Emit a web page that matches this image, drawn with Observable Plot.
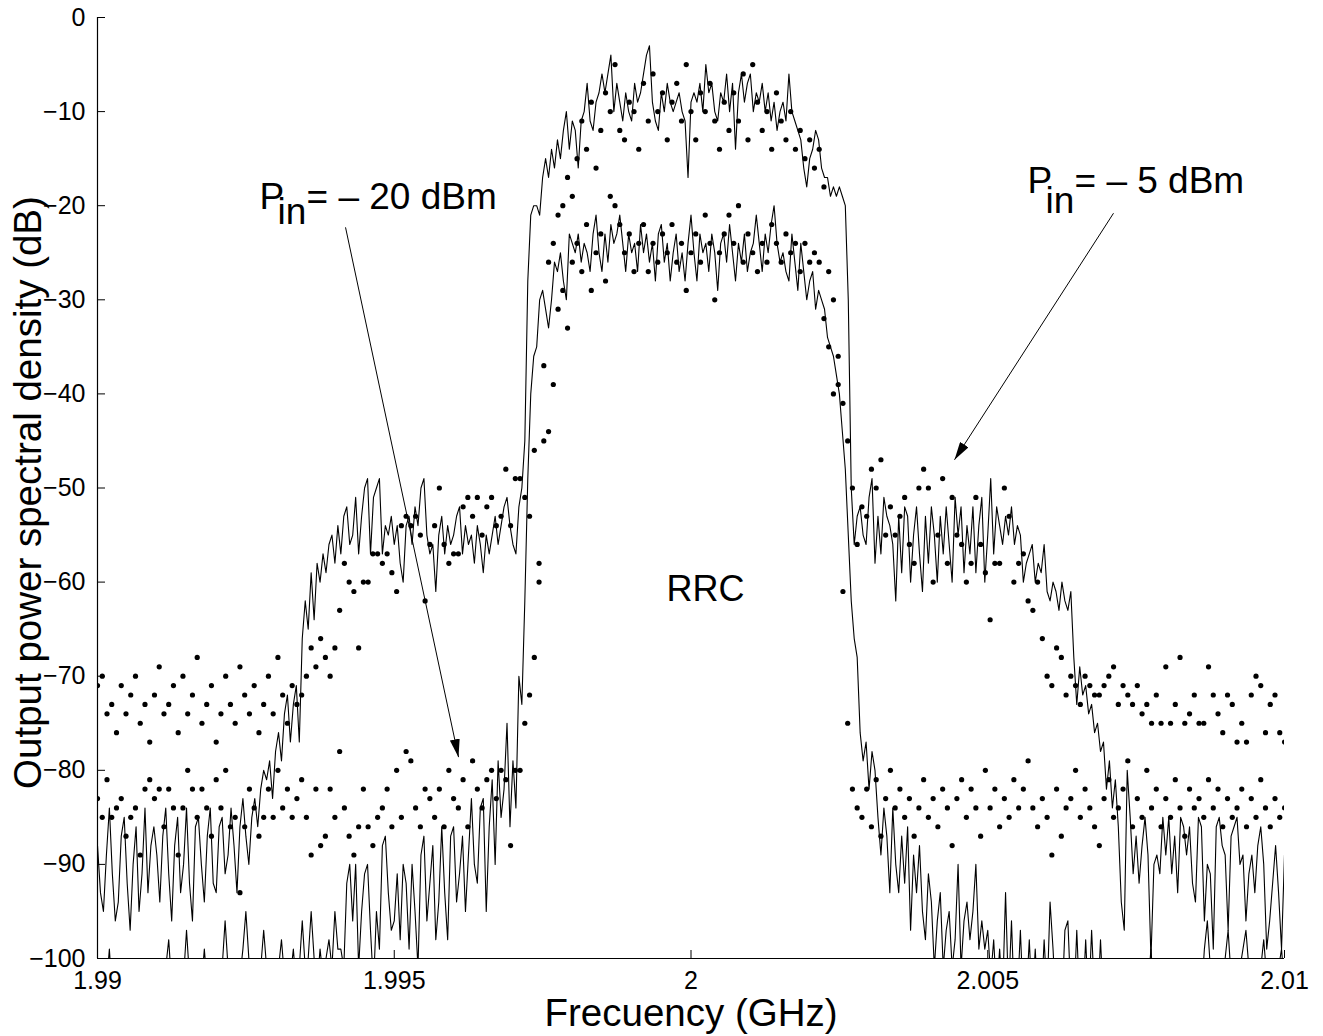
<!DOCTYPE html>
<html><head><meta charset="utf-8">
<script src="https://cdn.jsdelivr.net/npm/d3@7"></script>
<script src="https://cdn.jsdelivr.net/npm/@observablehq/plot@0.6"></script>
<style>html,body{margin:0;padding:0;background:#fff}</style>
</head><body><div id="chart"></div>
<script>
// ---------- data ----------
const freqStart = 1.99;      // GHz
const lineStep = 0.00005;    // spacing of line samples (GHz)
const dotStep = 0.00008;     // spacing of dot samples (GHz)

// Solid line, Pin = -5 dBm (upper trace), dB
const hiLine = [
-88,-93,-95,-89,-84,-91,-96,-94,-87,-85,-92,-97,-90,-86,-95,-91,-84,-93,-88,-86,
-89,-94,-87,-84,-91,-96,-88,-85,-93,-90,-84,-92,-96,-86,-85,-90,-94,-87,-84,-92,
-93,-86,-85,-91,-89,-84,-88,-93,-86,-83,-87,-90,-85,-83,-86,-82,-80,
-81,-79,-83,-78,-76,-79,-74,-72,-77,-73,-71,-77,
-66,-62,-65,-59,
-64,-58,-60,-57,-59,-56,-55,-58,-54,-57,-53,-52,-56,-55,-51,-57,-53,-50,-49,-57,
-51,-50,-49,-57,-54,-55,-53,-56,-54,-58,-60,-54,-53,-56,-52,-54,-50,-49,-55,-57,
-56,-61,-55,-53,-57,-54,-56,-55,-53,-52,-57,-54,-56,-55,-58,-54,-56,-59,-55,-57,
-55,-53,-56,-54,-52,-51,-54,-56,-57,-52,-50,
-45,-28,-21,-20,-20,-21,-17,-15,-17,-14,
-16,-13,-15,-12,-10,-14,-11,-12,-16,-11,
-10,-7,-11,-12,-9,-8,-6,-8,-6,-4,
-10,-7,-9,-11,-8,-10,-11,-7,-9,-8,
-6,-4,-3,-9,-11,-12,-8,-10,-7,-9,
-10,-9,-8,-10,-11,-17,-9,-8,-9,-7,
-10,-5,-8,-7,-10,-11,-8,-9,-6,-10,
-7,-14,-8,-6,-9,-7,-6,-10,-8,-9,
-7,-10,-8,-11,-9,-12,-10,-9,-11,-6,
-10,-11,-12,-13,-16,-18,-15,-14,-12,-13,
-16,-17,-17,-19,-18,-19,-18,-19,-20,-30,
-50,-56,-53,-52,-55,-56,-51,-49,-58,-53,
-57,-51,-53,-54,-56,-62,-53,-59,-52,-53,
-60,-55,-52,-57,-61,-53,-58,-52,-55,-60,
-53,-57,-52,-56,-60,-51,-55,-52,-59,-54,
-57,-52,-59,-54,-51,-60,-55,-49,-57,-52,
-54,-56,-53,-55,-52,-56,-54,-55,-60,-58,
-57,-56,-60,-58,-59,-56,-61,-62,-60,-61,
-63,-60,-62,-63,-61,-68,-73,-69,-72,-71,
-74,-73,-76,-75,-78,-77,-82,-79,-84,-81,
-86,-94,-97,-80,-85,-91,-87,-92,-88,-85,
-89,-100,-90,-89,-91,-85,-89,-85,-91,-87,
-93,-85,-86,-89,-86,-92,-94,-85,-86,-96,
-90,-91,-99,-86,-85,-88,-89,-97,-87,-86,
-85,-90,-89,-96,-91,-89,-93,-88,-86,-90,
-99,-96,-92,-88,-93,-99,-89
];

// Solid line, Pin = -20 dBm (lower trace), dB (values below -100 are clipped by the axis)
const loLine = [
-106,-104,-107,-103,-99,-104,-108,-105,-103,-107,-106,-104,-108,-105,-107,-103,-106,-108,-104,-106,
-107,-105,-103,-101,-98,-103,-107,-106,-104,-102,-97,-102,-106,-108,-104,-103,-99,-103,-107,-105,
-106,-103,-101,-96,-101,-105,-107,-104,-102,-99,-95,-100,-104,-106,-103,-101,-97,-101,-105,-104,
-103,-101,-98,-102,-105,-102,-99,-103,-101,-96,-101,-100,-95,-100,-103,-99,-102,-100,-98,-101,-95,-99,-99,-101,
-92,-90,-96,-90,-101,-95,-91,-90,-97,-103,
-95,-99,-88,-87,-93,-97,-96,-91,-98,-90,
-92,-99,-90,-95,-101,-89,-87,-96,-92,-88,
-98,-94,-86,-93,-98,-87,-86,-94,-91,-87,
-95,-89,-83,-90,-92,-84,-83,-95,-86,-81,
-90,-79,-85,-82,-75,-86,-79,-84,-70,-73,
-62,-49,-40,-36,-35,-30,-29,-31,-33,-30,
-26,-27,-25,-28,-30,-23,-24,-25,-23,-26,
-24,-25,-27,-23,-21,-25,-27,-23,-26,-22,
-24,-23,-21,-24,-27,-23,-25,-24,-27,-22,
-25,-23,-26,-24,-28,-23,-22,-26,-24,-28,
-25,-23,-27,-25,-28,-24,-21,-25,-28,-23,
-25,-24,-27,-23,-25,-29,-24,-23,-26,-22,
-25,-28,-24,-26,-23,-27,-25,-24,-21,-24,
-27,-23,-25,-22,-20,-24,-26,-25,-27,-28,
-23,-26,-29,-24,-27,-30,-28,-27,-31,-29,
-30,-31,-34,-35,-36,-38,-40,-44,-48,-55,
-62,-66,-68,-76,-79,-77,-82,-78,-80,-85,
-89,-84,-87,-93,-84,-90,-93,-87,-92,-86,
-97,-89,-93,-88,-95,-98,-91,-94,-101,-96,
-93,-101,-97,-95,-101,-98,-90,-101,-96,-94,
-98,-95,-90,-99,-96,-99,-97,-102,-98,-104,
-99,-104,-93,-104,-96,-105,-104,-97,-105,-104,
-98,-105,-99,-105,-105,-98,-104,-94,-99,-105,
-104,-105,-97,-96,-104,-105,-97,-105,-105,-98,
-105,-97,-104,-105,-98,-105,-105,-106,-104,-107,
-105,-106,-104,-103,-106,-100,-104,-107,-105,-106,
-103,-99,-104,-107,-106,-105,-108,-106,-104,-107,
-105,-108,-106,-104,-107,-103,-106,-105,-104,-99,
-96,-101,-105,-107,-104,-102,-100,-97,-102,-106,
-104,-101,-99,-97,-101,-105,-107,-104,-101,-98,
-102,-105,-106,-103,-101,-99,-103
];

// Dots, Pin = -5 dBm (upper dotted trace), dB
const hiDots = [
-71,-70,-74,-73,-76,-71,-74,-72,-70,-75,-73,-77,-72,-69,-74,-73,-71,-76,-70,-74,
-72,-68,-75,-73,-71,-77,-74,-70,-73,-75,-69,-72,-74,-71,-76,-73,-70,-74,-68,-72,
-75,-71,-73,
-72,-70,-67,-69,-66,-68,-70,-67,-63,-58,-60,-61,-67,
-60,-60,-57,-57,-58,-57,-59,-61,-54,-53,-54,-53,-55,-62,-56,-54,-50,-56,-58,-57,
-57,-52,-51,-53,-51,-55,-52,-51,-54,-53,-48,-54,-49,
-49,-51,-53,-46,-58,-37,-26,-24,
-21,-20,-17,-19,-15,-11,-14,-9,-16,-12,-8,-10,-5,-12,-13,-9,-10,-14,-7,-11,
-6,-10,-8,-13,-9,-7,-11,-5,-10,-13,-8,-10,-7,-11,-14,-9,-12,-8,-11,-6,
-13,-5,-9,-12,-10,-14,-8,-11,-13,-10,-14,-12,-15,-13,-16,-14,
-18,-27,-30,-36,-41,-45,-50,-56,
-52,-53,-48,-50,-47,-55,-52,-55,-53,-51,-56,-58,-50,-48,-50,-60,-55,-49,-58,-51,
-55,-56,-60,-58,-51,-56,-59,-64,-58,-58,-50,-53,-60,-58,-57,-62,-63,
-60,-66,-70,-71,-67,-68,-72,-70,-71,-73,
-70,-71,-72,-72,-71,-70,-69,-73,-71,-72,-73,-71,-74,-73,-75,-72,-75,-69,-75,-73,
-68,-75,-74,-72,-75,-75,-69,-72,-74,-76,-72,-73,-77,-75,-77,-72,-70,-71,-76,-73,
-72,-76,-77
];

// Dots, Pin = -20 dBm (lower dotted trace), dB
const loDots = [
-83,-85,-81,-85,-84,-83,-87,-85,-84,-89,-82,-81,-83,-82,-86,-82,-84,-89,-84,-80,
-82,-85,-82,-84,-87,-81,-84,-80,-86,-85,-93,-86,-82,-84,-87,-85,-82,-85,-80,-84,
-82,-85,-83,-81,-85,-89,-82,-88,-87,-82,-85,-78,-84,-87,-89,-86,-82,-86,-88,-85,
-84,-82,-86,-80,-85,-78,-79,-84,-86,-82,-83,-85,-82,-86,-80,-83,-84,-81,-86,-79,
-82,-84,-81,-80,-83,-80,-81,-88,-80,
-80,-75,-72,-68,-60,-45,-44,-39,-31,-29,-33,
-26,-24,-27,-22,-29,-25,-23,-28,-19,-20,-22,-25,-23,-27,-24,-22,-27,-24,-26,-23,
-25,-22,-26,-24,-29,-25,-23,-26,-21,-24,-30,-25,-23,-21,-24,-20,-26,-23,-25,-27,
-24,-26,-22,-24,-26,-23,-25,-24,-27,-24,-26,-25,
-26,-32,-35,-40,-39,-61,-75,-82,-84,
-85,-82,-86,-81,-87,-83,-80,-84,-82,-85,-83,-87,-84,-81,-85,-83,-86,-82,-84,-88,
-83,-81,-85,-82,-84,-87,-80,-84,-82,-86,-83,-85,-81,-84,-82,-79,-84,-86,-83,-85,
-89,-82,-87,-84,-83,-80,-85,-82,-84,-86,-88,-83,-81,-85,-84,-82,-79,-86,-83,-85,
-80,-84,-82,-86,-83,-85,-81,-84,-87,-82,-84,-83,-85,-81,-84,-82,-86,-83,-85,-84,
-82,-86,-83,-85,-81,-84,-86,-83,-85,-84
];

// Axes
const xTicks = [1.99, 1.995, 2, 2.005, 2.01];
const xTickLabels = ["1.99", "1.995", "2", "2.005", "2.01"];
const yTicks = [0, -10, -20, -30, -40, -50, -60, -70, -80, -90, -100];
const yTickLabels = ["0", "\u221210", "\u221220", "\u221230", "\u221240", "\u221250", "\u221260", "\u221270", "\u221280", "\u221290", "\u2212100"];
const xLabel = "Frecuency (GHz)";
const yLabel = "Output power spectral density (dB)";

// Annotations (anchored in data units: GHz, dB)
const pinLabels = [
  {f: 1.99273, db: -20.4, subDb: -21.9, rest: "= \u2013 20 dBm"},
  {f: 2.00567, db: -18.6, subDb: -20.8, rest: "= \u2013 5 dBm"}
];
const centerLabel = [{f: 2.000244, db: -62.0, text: "RRC"}];
const arrows = [
  {f1: 1.994179, db1: -22.3, f2: 1.996083, db2: -78.6},
  {f1: 2.007119, db1: -20.8, f2: 2.004440, db2: -47.0}
];

// ---------- build rows ----------
const toRows = (vals, step) => vals.map((v, i) => ({f: +(freqStart + i * step).toFixed(6), db: v}));
const hiLineRows = toRows(hiLine, lineStep);
const loLineRows = toRows(loLine, lineStep);
const hiDotRows = toRows(hiDots, dotStep);
const loDotRows = toRows(loDots, dotStep);

const fontFamily = '"Liberation Sans", Arial, Helvetica, sans-serif';

const filledHead = (color, context) => {
  const doc = (context && context.document) || document;
  const ns = "http://www.w3.org/2000/svg";
  const m = doc.createElementNS(ns, "marker");
  m.setAttribute("viewBox", "-18 -5 18 10");
  m.setAttribute("markerWidth", 18);
  m.setAttribute("markerHeight", 10);
  m.setAttribute("markerUnits", "userSpaceOnUse");
  m.setAttribute("refX", 0);
  m.setAttribute("refY", 0);
  m.setAttribute("orient", "auto");
  const p = doc.createElementNS(ns, "path");
  p.setAttribute("d", "M0,0L-18,-5L-18,5Z");
  p.setAttribute("fill", color);
  p.setAttribute("stroke", "none");
  m.appendChild(p);
  return m;
};

const chart = Plot.plot({
  width: 1323,
  height: 1036,
  marginLeft: 97,
  marginRight: 39,
  marginTop: 17,
  marginBottom: 78,
  style: {fontFamily, background: "white", color: "black", overflow: "visible"},
  x: {domain: [1.99, 2.01]},
  y: {domain: [-100, 0]},
  marks: [
    Plot.line(hiLineRows, {x: "f", y: "db", stroke: "black", strokeWidth: 1.1, clip: true}),
    Plot.line(loLineRows, {x: "f", y: "db", stroke: "black", strokeWidth: 1.1, clip: true}),
    Plot.dot(hiDotRows, {x: "f", y: "db", r: 2.6, fill: "black", clip: true}),
    Plot.dot(loDotRows, {x: "f", y: "db", r: 2.6, fill: "black", clip: true}),
    Plot.ruleX([1.99], {stroke: "black", strokeWidth: 1.2}),
    Plot.ruleY([-100], {stroke: "black", strokeWidth: 1.2}),
    Plot.axisY({ticks: yTicks, tickSize: 8, dx: 8, tickFormat: () => "", label: null}),
    Plot.axisY({ticks: yTicks, tickSize: 0, tickPadding: 12, fontSize: 25, label: null,
      tickFormat: (d) => yTickLabels[yTicks.indexOf(d)]}),
    Plot.axisX({ticks: xTicks, tickSize: 8, dy: -8, tickFormat: () => "", label: null}),
    Plot.axisX({ticks: xTicks, tickSize: 0, tickPadding: 13, fontSize: 25, label: null,
      tickFormat: (d) => xTickLabels[xTicks.indexOf(d)]}),
    Plot.text([xLabel], {frameAnchor: "bottom", textAnchor: "middle", dy: 67, fontSize: 38.5, lineAnchor: "bottom"}),
    Plot.text([yLabel], {frameAnchor: "left", textAnchor: "middle", rotate: -90, dx: -56.5, dy: 4.5, fontSize: 38.5, lineAnchor: "bottom"}),
    Plot.link(arrows, {x1: "f1", y1: "db1", x2: "f2", y2: "db2", stroke: "black", strokeWidth: 1, markerEnd: filledHead}),
    Plot.text(pinLabels, {x: "f", y: "db", text: () => "P", textAnchor: "start", lineAnchor: "bottom", fontSize: 37}),
    Plot.text(pinLabels, {x: "f", y: "subDb", text: () => "in", textAnchor: "start", lineAnchor: "bottom", fontSize: 37, dx: 18}),
    Plot.text(pinLabels, {x: "f", y: "db", text: "rest", textAnchor: "start", lineAnchor: "bottom", fontSize: 37, dx: 47}),
    Plot.text(centerLabel, {x: "f", y: "db", text: "text", textAnchor: "middle", lineAnchor: "bottom", fontSize: 36})
  ]
});
document.getElementById("chart").appendChild(chart);
</script>
</body></html>
